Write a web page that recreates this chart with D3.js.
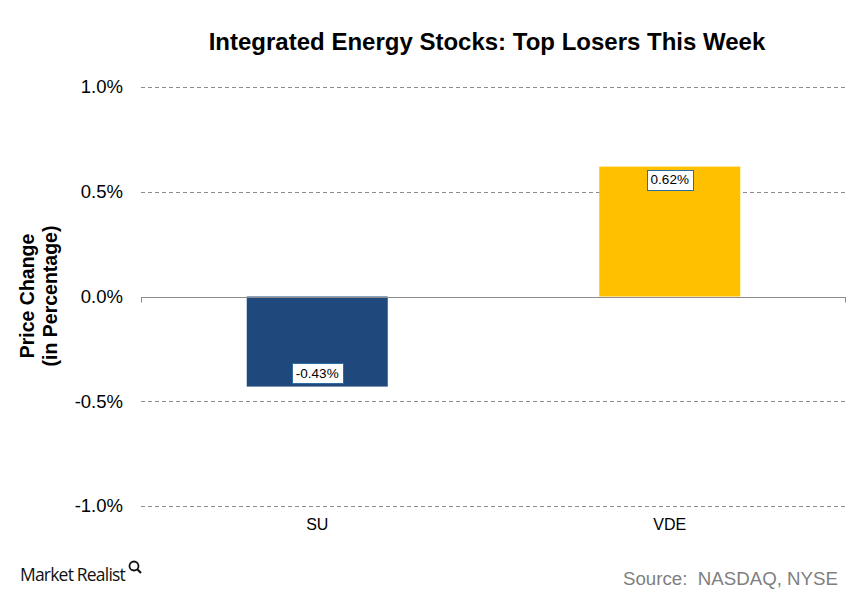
<!DOCTYPE html>
<html><head><meta charset="utf-8">
<script src="https://cdn.jsdelivr.net/npm/d3@7"></script>
<style>body{margin:0;background:#fff;} svg{display:block;font-family:"Liberation Sans",Arial,sans-serif;}</style>
</head><body>
<script>
const categories = ["SU", "VDE"];
const values = [-0.43, 0.62];
const colors = ["#1F497D", "#FFC000"];
const yTicks = [-1.0, -0.5, 0.0, 0.5, 1.0];
const titleText = "Integrated Energy Stocks: Top Losers This Week";
const sourceText = "Source:  NASDAQ, NYSE";

const W = 861, H = 602;
const m = {left: 141, right: 15, top: 87, bottom: 96};
const svg = d3.select("body").append("svg").attr("width", W).attr("height", H);

const x = d3.scaleBand().domain(categories).range([m.left, W - m.right]).paddingInner(0.6).paddingOuter(0.3);
const y = d3.scaleLinear().domain([-1, 1]).range([H - m.bottom, m.top]);
const fmt = (f) => (d) => d3.format(f)(d).replace("\u2212", "-");

// gridlines
svg.append("g").selectAll("line").data(yTicks.filter(d => d !== 0)).join("line")
  .attr("x1", m.left).attr("x2", W - m.right)
  .attr("y1", d => Math.round(y(d)) + 0.5).attr("y2", d => Math.round(y(d)) + 0.5)
  .attr("stroke", "#8c8c8c").attr("stroke-dasharray", "4,3");

// y tick labels
svg.append("g").selectAll("text").data(yTicks).join("text")
  .attr("x", 123).attr("y", d => y(d)).attr("dy", "0.35em")
  .attr("text-anchor", "end").attr("font-size", 18.5).attr("fill", "#000")
  .text(d => fmt(".1f")(d) + "%");

// bars
svg.append("g").selectAll("rect").data(values).join("rect")
  .attr("x", (d, i) => x(categories[i]))
  .attr("width", x.bandwidth())
  .attr("y", d => y(Math.max(0, d)))
  .attr("height", d => Math.abs(y(d) - y(0)))
  .attr("fill", (d, i) => colors[i]);

// zero line
const y0 = Math.round(y(0)) + 0.5;
svg.append("line").attr("x1", m.left).attr("x2", W - m.right).attr("y1", y0).attr("y2", y0)
  .attr("stroke", "#8c8c8c").attr("stroke-width", 1);
[m.left + 0.5, W - m.right - 0.5].forEach(xx =>
  svg.append("line").attr("x1", xx).attr("x2", xx).attr("y1", y0).attr("y2", y0 + 5).attr("stroke", "#8c8c8c"));

// data labels
const lbl = svg.append("g").selectAll("g").data(values).join("g");
lbl.each(function(d, i) {
  const g = d3.select(this);
  const cx = x(categories[i]) + x.bandwidth() / 2;
  const cy = d < 0 ? y(d) - 13.5 : y(d) + 13;
  const t = g.append("text").attr("x", cx).attr("y", cy).attr("dy", "0.35em")
    .attr("text-anchor", "middle").attr("font-size", 13.5).attr("fill", "#000")
    .text(fmt(".2f")(d) + "%");
  const bb = t.node().getBBox();
  g.insert("rect", "text").attr("x", Math.round(cx - (bb.width + 8) / 2) + 0.5).attr("y", Math.round(cy - 10) + 0.5)
    .attr("width", Math.round(bb.width + 8)).attr("height", 20)
    .attr("fill", "#fff").attr("stroke", "#2E6E9E").attr("stroke-width", 1);
});

// category labels
svg.append("g").selectAll("text").data(categories).join("text")
  .attr("x", d => x(d) + x.bandwidth() / 2).attr("y", 530)
  .attr("text-anchor", "middle").attr("font-size", 16).attr("fill", "#000").text(d => d);

// title
svg.append("text").attr("x", 487).attr("y", 50).attr("text-anchor", "middle")
  .attr("font-size", 24).attr("font-weight", "bold").text(titleText);

// y-axis label
const yl = svg.append("text").attr("transform", "translate(0,296) rotate(-90)")
  .attr("text-anchor", "middle").attr("font-size", 19.5).attr("font-weight", "bold");
yl.append("tspan").attr("x", 0).attr("y", 34).text("Price Change");
yl.append("tspan").attr("x", 0).attr("y", 57).text("(in Percentage)");

// source
svg.append("text").attr("x", 838).attr("y", 585).attr("text-anchor", "end")
  .attr("font-size", 18.7).attr("fill", "#7f7f7f").style("white-space", "pre").text(sourceText);

// logo
svg.append("text").attr("x", 20).attr("y", 581).attr("font-family", "'Open Sans','DejaVu Sans',sans-serif")
  .attr("font-size", 17.5).attr("fill", "#111").attr("letter-spacing", "-0.8").text("Market Realist");
const lg = svg.append("g").attr("transform", "translate(134,566)");
lg.append("circle").attr("cx", 0).attr("cy", 0).attr("r", 4.5).attr("fill", "none").attr("stroke", "#111").attr("stroke-width", 1.8);
lg.append("line").attr("x1", 3).attr("y1", 3).attr("x2", 7).attr("y2", 7).attr("stroke", "#111").attr("stroke-width", 2.2);
</script>
</body></html>
